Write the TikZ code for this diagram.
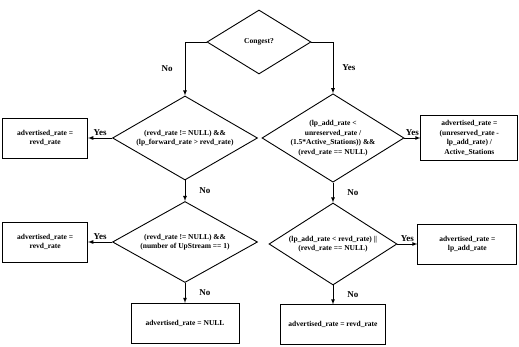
\documentclass[tikz,border=0pt]{standalone}
\usepackage{fontspec}
\setmainfont{Liberation Serif}
\usetikzlibrary{arrows, positioning, shapes.geometric}
\tikzset{%
	decision/.style={draw, diamond, aspect=1.7, inner sep=0pt, align=center, line width=0.9pt},
	result/.style={draw, rectangle, align=center, minimum height=40pt, line width=0.8pt},
	sel/.style={->, >=latex, line width=0.8pt},
	tag/.style={inner sep=2pt, font=\fontsize{9}{10}\selectfont\bfseries}
}

\begin{document}
\begin{tikzpicture}[x=1pt, y=-1pt, font=\fontsize{7.5}{9.5}\selectfont\bfseries]
	\useasboundingbox (0,0) rectangle (519,347);

	\node[decision, minimum width=104pt, minimum height=64pt] (congest) at (259,42) {Congest?};
	\node[decision, minimum width=145pt, minimum height=84pt] (fwd) at (185,138) {(revd\_rate != NULL) \&\&\\(lp\_forward\_rate > revd\_rate)};
	\node[decision, aspect=1.6, minimum width=142pt, minimum height=86pt] (unres) at (333,138) {(lp\_add\_rate <\\unreserved\_rate /\\(1.5*Active\_Stations)) \&\&\\(revd\_rate == NULL)};
	\node[decision, minimum width=145pt, minimum height=81pt] (upstr) at (185,242) {(revd\_rate != NULL) \&\&\\(number of UpStream == 1)};
	\node[decision, minimum width=128pt, minimum height=82pt] (addr) at (333,244) {(lp\_add\_rate < revd\_rate) ||\\(revd\_rate == NULL)};

	\node[result, minimum width=85pt, left=24pt of fwd] (fwdyes) {advertised\_rate =\\revd\_rate};
	\node[result, minimum width=97pt, minimum height=45pt, right=16pt of unres] (unresyes) {advertised\_rate =\\(unreserved\_rate -\\lp\_add\_rate) /\\Active\_Stations};
	\node[result, minimum width=85pt, left=24pt of upstr] (upstryes) {advertised\_rate =\\revd\_rate};
	\node[result, minimum width=99pt, right=20pt of addr] (addryes) {advertised\_rate =\\lp\_add\_rate};
	\node[result, minimum width=108pt, below=20pt of upstr] (upstrno) {advertised\_rate = NULL};
	\node[result, minimum width=105pt, below=19pt of addr] (addrno) {advertised\_rate = revd\_rate};

	\draw[sel] (congest.west) -| node[tag, pos=0.75, left=10pt] {No} (fwd.north);
	\draw[sel] (congest.east) -| node[tag, pos=0.75, right=7pt] {Yes} (unres.north);
	\draw[sel] (fwd.west) -- node[tag, above] {Yes} (fwdyes.east);
	\draw[sel] (fwd.south) -- node[tag, right=12pt] {No} (upstr.north);
	\draw[sel] (unres.east) -- node[tag, above] {Yes} (unresyes.west);
	\draw[sel] (unres.south) -- node[tag, right=12pt] {No} (addr.north);
	\draw[sel] (upstr.west) -- node[tag, above] {Yes} (upstryes.east);
	\draw[sel] (upstr.south) -- node[tag, right=12pt] {No} (upstrno.north);
	\draw[sel] (addr.east) -- node[tag, above] {Yes} (addryes.west);
	\draw[sel] (addr.south) -- node[tag, right=12pt] {No} (addrno.north);
\end{tikzpicture}
\end{document}
